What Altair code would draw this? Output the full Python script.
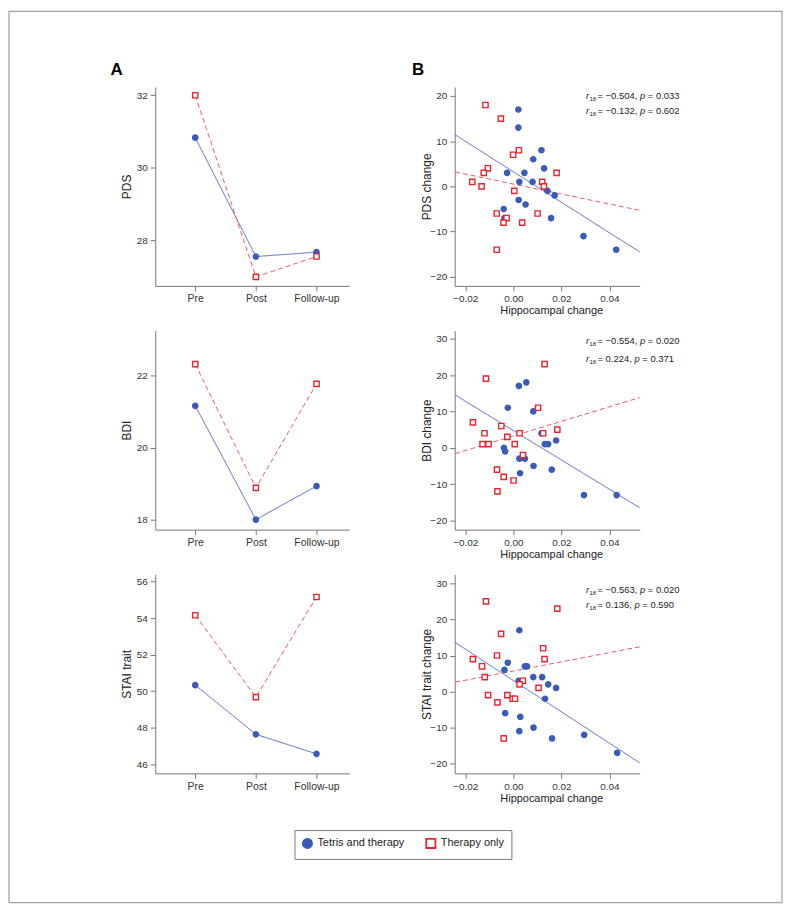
import altair as alt
import pandas as pd

FONT = "Liberation Sans"
BLUE = "#3b5bb5"
RED = "#e3262f"
LBLUE = "#5266c2"
LRED = "#ef5a63"

groups = ["Tetris and therapy", "Therapy only"]
times = ["Pre", "Post", "Follow-up"]

# ---- Panel A: group means ----
pds_tetris = [30.83, 27.55, 27.67]
pds_therapy = [32.00, 26.99, 27.55]
bdi_tetris = [21.16, 18.00, 18.93]
bdi_therapy = [22.32, 18.88, 21.77]
stai_tetris = [50.33, 47.63, 46.56]
stai_therapy = [54.16, 49.67, 55.16]

# ---- Panel B: PDS change vs hippocampal change ----
pds_hip_tetris = [0.0021, 0.0021, 0.0117, 0.0083, -0.0026, 0.0046, 0.0128, 0.0025, 0.0080,
                  0.0142, 0.0172, 0.0022, 0.0051, -0.0040, -0.0037, 0.0157, 0.0292, 0.0428]
pds_chg_tetris = [17, 13, 8, 6, 3, 3, 4, 1, 1, -1, -2, -3, -4, -5, -7, -7, -11, -14]
pds_hip_therapy = [-0.0116, -0.0052, 0.0023, -0.0001, -0.0106, -0.0123, 0.0180, -0.0171, -0.0132,
                   0.0120, 0.0127, 0.0004, -0.0069, -0.0028, -0.0041, 0.0037, 0.0101, -0.0069]
pds_chg_therapy = [18, 15, 8, 7, 4, 3, 3, 1, 0, 1, 0, -1, -6, -7, -8, -8, -6, -14]

# ---- BDI ----
bdi_hip_tetris = [0.0023, 0.0054, -0.0023, 0.0083, -0.0039, -0.0034, 0.0025, 0.0048, 0.0028,
                  0.0084, 0.0131, 0.0145, 0.0178, 0.0160, 0.0294, 0.0430, 0.0117]
bdi_chg_tetris = [17, 18, 11, 10, 0, -1, -3, -3, -7, -5, 1, 1, 2, -6, -13, -13, 4]
bdi_hip_therapy = [-0.0114, 0.0130, 0.0103, -0.0168, -0.0050, -0.0120, -0.0025, 0.0026, 0.0124,
                   0.0183, -0.0128, -0.0103, 0.0006, 0.0040, -0.0068, -0.0040, 0.0001, -0.0066]
bdi_chg_therapy = [19, 23, 11, 7, 6, 4, 3, 4, 4, 5, 1, 1, 1, -2, -6, -8, -9, -12]

# ---- STAI trait ----
stai_hip_tetris = [0.0025, -0.0023, -0.0037, 0.0048, 0.0057, 0.0022, 0.0083, 0.0120, 0.0145,
                   0.0178, 0.0132, -0.0034, 0.0029, 0.0025, 0.0084, 0.0161, 0.0295, 0.0432]
stai_chg_tetris = [17, 8, 6, 7, 7, 3, 4, 4, 2, 1, -2, -6, -7, -11, -10, -13, -12, -17]
stai_hip_therapy = [-0.0114, 0.0183, -0.0051, 0.0124, -0.0068, -0.0168, 0.0130, -0.0130, -0.0119,
                    0.0040, 0.0026, 0.0105, -0.0105, -0.0025, -0.0003, 0.0007, -0.0066, -0.0040]
stai_chg_therapy = [25, 23, 16, 12, 10, 9, 9, 7, 4, 3, 2, 1, -1, -1, -2, -2, -3, -13]

# ---- regression line end points ----
fit_x = [-0.0242, 0.0526]
pds_fit_tetris = [11.4, -14.5]
pds_fit_therapy = [3.2, -5.3]
bdi_fit_tetris = [14.5, -16.5]
bdi_fit_therapy = [-1.6, 13.8]
stai_fit_tetris = [13.6, -19.8]
stai_fit_therapy = [2.6, 12.4]

# ---- correlation stats (r, p) ----
pds_stats = [("\u22120.504", "0.033"), ("\u22120.132", "0.602")]
bdi_stats = [("\u22120.554", "0.020"), ("0.224", "0.371")]
stai_stats = [("\u22120.563", "0.020"), ("0.136", "0.590")]

LEG = alt.Legend(title=None, orient="none", legendX=140, legendY=257, direction="horizontal",
                 strokeColor="#777", fillColor="white", padding=7, labelFontSize=11,
                 labelFont=FONT, labelColor="#222", symbolSize=85, symbolStrokeWidth=1.8,
                 columnPadding=17, labelOffset=4, cornerRadius=0)


def point_enc(show_legend=False):
    leg = LEG if show_legend else None
    return dict(
        shape=alt.Shape("group:N", scale=alt.Scale(domain=groups, range=["circle", "square"]), legend=leg),
        fill=alt.Fill("group:N", scale=alt.Scale(domain=groups, range=[BLUE, "white"]), legend=leg),
        stroke=alt.Stroke("group:N", scale=alt.Scale(domain=groups, range=[BLUE, RED]), legend=leg),
    )


def line_enc():
    return dict(
        color=alt.Color("group:N", scale=alt.Scale(domain=groups, range=[LBLUE, LRED]), legend=None),
        strokeDash=alt.StrokeDash("group:N", scale=alt.Scale(domain=groups, range=[[1, 0], [5, 3]]),
                                  legend=None),
    )


def panel_label(letter, dx):
    return alt.Chart(alt.Data(values=[{"t": letter}])).mark_text(
        fontSize=17, fontWeight="bold", font=FONT, color="black", align="left",
        baseline="alphabetic").encode(text="t:N", x=alt.value(dx), y=alt.value(-12))


def left_panel(tv, rv, ytitle, ydom, yticks, title=None, border=False, show_legend=False):
    df = pd.DataFrame({"time": times * 2, "value": tv + rv,
                       "group": [groups[0]] * 3 + [groups[1]] * 3})
    x = alt.X("time:N", sort=times,
              scale=alt.Scale(type="point", domain=times, padding=0.6, align=0.55),
              axis=alt.Axis(title=None, labelAngle=0, labelFontSize=10.5))
    y = alt.Y("value:Q", scale=alt.Scale(domain=ydom, nice=False, zero=False),
              axis=alt.Axis(values=yticks, title=ytitle, titleX=-29, titleY=100, titleAngle=-90,
                            titleAlign="center", titleBaseline="middle"))
    base = alt.Chart(df).encode(x=x, y=y)
    lines = base.mark_line(strokeWidth=1).encode(**line_enc())
    pts = base.mark_point(size=28, strokeWidth=1.4, opacity=1, fillOpacity=1).encode(
        **point_enc(show_legend))
    layers = [lines, pts]
    if border:
        b = alt.Chart(alt.Data(values=[{"a": 1}])).mark_rect(
            fill="white", fillOpacity=0, stroke="#888", strokeWidth=1).encode(
            x=alt.value(-147), x2=alt.value(630), y=alt.value(-76), y2=alt.value(820))
        layers = [b] + layers
    if title:
        layers = layers + [panel_label(title, -45)]
    return alt.layer(*layers).properties(width=195, height=200)


def width_em(s):
    w = {"0": .556, "1": .556, "2": .556, "3": .556, "4": .556, "5": .556, "6": .556, "7": .556,
         "8": .556, "9": .556, ".": .278, ",": .278, " ": .278, "=": .584, "\u2212": .584}
    return sum(w.get(c, .556) for c in s)


def stat_table(stats, ycenters):
    fs = 9.5
    rows = []
    for (rv, pv), yc in zip(stats, ycenters):
        by = yc + 3.4
        x = 132.0
        rows.append(dict(t="r", px=x, py=by, kind="it"))
        x += 0.333 * fs + 0.3
        rows.append(dict(t="18", px=x, py=by + 2.2, kind="sub"))
        x += 2 * 0.556 * 6 + 1.3
        s1 = "= " + rv + ","
        rows.append(dict(t=s1, px=x, py=by, kind="rm"))
        x += (width_em(s1) + 0.278) * fs
        rows.append(dict(t="p", px=x, py=by, kind="it"))
        x += (0.556 + 0.278) * fs
        rows.append(dict(t="= " + pv, px=x, py=by, kind="rm"))
    return pd.DataFrame(rows)


def right_panel(ht, ct, hr, cr, ft, fr, stats, stat_y, ytitle, ydom, yticks, title=None):
    pdf = pd.DataFrame({"hip": ht + hr, "chg": ct + cr,
                        "group": [groups[0]] * len(ht) + [groups[1]] * len(hr)})
    fdf = pd.DataFrame({"hip": fit_x * 2, "chg": ft + fr,
                        "group": [groups[0]] * 2 + [groups[1]] * 2})
    x = alt.X("hip:Q", scale=alt.Scale(domain=[-0.0244, 0.0526], nice=False, zero=False),
              axis=alt.Axis(values=[-0.02, 0, 0.02, 0.04], format=".2f", title="Hippocampal change",
                            titleFontSize=11, titleX=97, titleY=25, titleAlign="center",
                            titleBaseline="middle"))
    y = alt.Y("chg:Q", scale=alt.Scale(domain=ydom, nice=False, zero=False),
              axis=alt.Axis(values=yticks, title=ytitle, titleX=-28, titleY=100, titleAngle=-90,
                            titleAlign="center", titleBaseline="middle"))
    fits = alt.Chart(fdf).mark_line(strokeWidth=1).encode(x=x, y=y, **line_enc())
    pts = alt.Chart(pdf).mark_point(size=28, strokeWidth=1.4, opacity=1, fillOpacity=1).encode(
        x=x, y=y, **point_enc(False))
    sdf = stat_table(stats, stat_y)
    tx = alt.X("px:Q", scale=None, axis=None)
    ty = alt.Y("py:Q", scale=None, axis=None)
    txt_common = dict(font=FONT, color="#222", align="left", baseline="alphabetic")
    t_rm = alt.Chart(sdf).transform_filter("datum.kind == 'rm'").mark_text(
        fontSize=9.5, **txt_common).encode(x=tx, y=ty, text="t:N")
    t_it = alt.Chart(sdf).transform_filter("datum.kind == 'it'").mark_text(
        fontSize=9.5, fontStyle="italic", **txt_common).encode(x=tx, y=ty, text="t:N")
    t_sub = alt.Chart(sdf).transform_filter("datum.kind == 'sub'").mark_text(
        fontSize=6, **txt_common).encode(x=tx, y=ty, text="t:N")
    layers = [fits, pts, t_rm, t_it, t_sub]
    if title:
        layers = layers + [panel_label(title, -43)]
    return alt.layer(*layers).properties(width=186, height=200)


panels = [
    left_panel(pds_tetris, pds_therapy, "PDS", [26.74, 32.23], [28, 30, 32], title="A", border=True),
    right_panel(pds_hip_tetris, pds_chg_tetris, pds_hip_therapy, pds_chg_therapy,
                pds_fit_tetris, pds_fit_therapy, pds_stats, [8.7, 23.7],
                "PDS change", [-22.0, 22.0], [-20, -10, 0, 10, 20], title="B"),
    left_panel(bdi_tetris, bdi_therapy, "BDI", [17.72, 23.25], [18, 20, 22]),
    right_panel(bdi_hip_tetris, bdi_chg_tetris, bdi_hip_therapy, bdi_chg_therapy,
                bdi_fit_tetris, bdi_fit_therapy, bdi_stats, [10.3, 27.7],
                "BDI change", [-22.5, 32.2], [-20, -10, 0, 10, 20, 30]),
    left_panel(stai_tetris, stai_therapy, "STAI trait", [45.49, 56.4], [46, 48, 50, 52, 54, 56],
               show_legend=True),
    right_panel(stai_hip_tetris, stai_chg_tetris, stai_hip_therapy, stai_chg_therapy,
                stai_fit_tetris, stai_fit_therapy, stai_stats, [15.0, 30.6],
                "STAI trait change", [-22.7, 32.5], [-20, -10, 0, 10, 20, 30]),
]

chart = alt.concat(*panels, columns=2, spacing={"row": 45, "column": 106},
                   bounds="flush").resolve_legend(
    shape="independent", fill="independent", stroke="independent"
).properties(
    padding=0, background="white"
).configure_view(strokeWidth=0).configure_axis(
    labelFont=FONT, titleFont=FONT, labelFontSize=10, titleFontSize=12,
    titleFontWeight="normal", domainColor="#777", tickColor="#777", labelColor="#333",
    titleColor="#222", grid=False, tickSize=5, labelPadding=3, domainWidth=1, tickWidth=1
)

chart.save("out.html", embed_options={"renderer": "svg", "actions": False})
